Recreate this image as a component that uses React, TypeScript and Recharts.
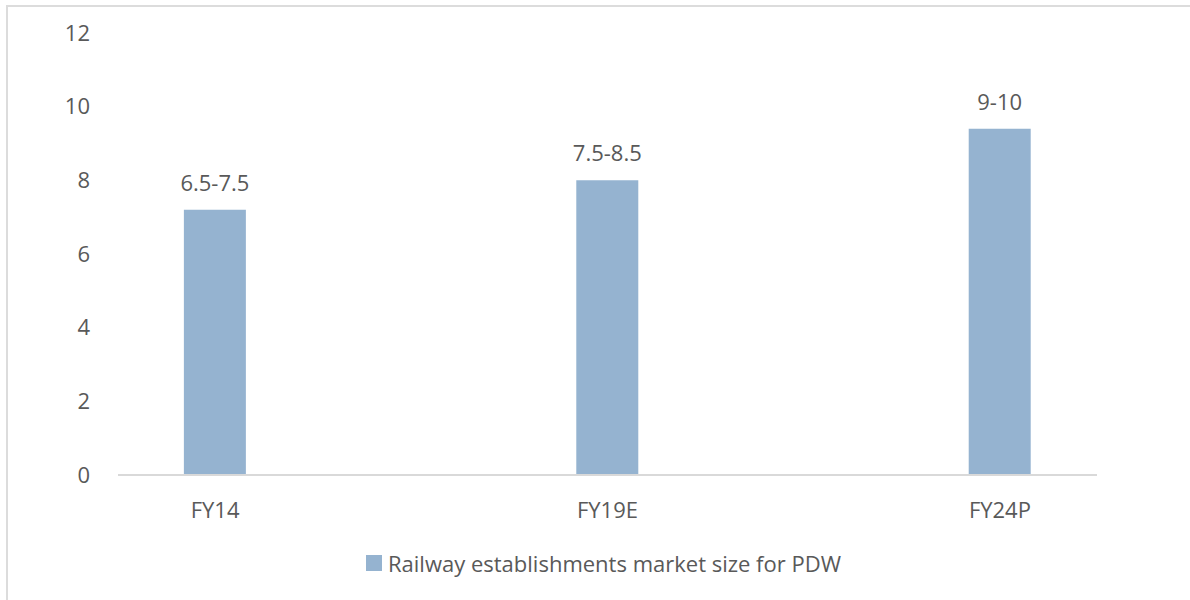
import { BarChart, Bar, XAxis, YAxis, LabelList, Legend } from "recharts";

const categories = ["FY14", "FY19E", "FY24P"];
const marketSize = [7.2, 8.0, 9.4];
const rangeLabels = ["6.5-7.5", "7.5-8.5", "9-10"];
const yTicks = [0, 2, 4, 6, 8, 10, 12];

const seriesName = "Railway establishments market size for PDW";

const data = categories.map((name, i) => ({
  idx: i,
  name,
  value: marketSize[i],
  label: rangeLabels[i],
}));

const FONT = "'Open Sans', sans-serif";
const TEXT = "#595959";
const BAR = "#95B3D0";

function LegendBox() {
  return (
    <div
      style={{
        display: "flex",
        justifyContent: "center",
        alignItems: "center",
        paddingLeft: 17,
        fontFamily: FONT,
        fontSize: 22,
        lineHeight: "26px",
        color: TEXT,
      }}
    >
      <span
        style={{
          width: 16,
          height: 16,
          background: BAR,
          marginRight: 6,
          display: "inline-block",
        }}
      />
      <span>{seriesName}</span>
    </div>
  );
}

export default function App() {
  return (
    <div
      style={{
        position: "absolute",
        left: 0,
        top: 0,
        width: 1190,
        height: 600,
        background: "#fff",
        overflow: "hidden",
      }}
    >
      <div
        style={{
          position: "absolute",
          left: 6,
          top: 5,
          width: 1200,
          height: 620,
          borderTop: "2px solid #DCDCDC",
          borderLeft: "2px solid #DCDCDC",
        }}
      />
      <div style={{ position: "absolute", left: 0, top: 0 }}>
        <BarChart
          width={1190}
          height={600}
          data={data}
          margin={{ top: 33, right: 93, bottom: 39, left: 0 }}
        >
          <XAxis
            dataKey="idx"
            type="number"
            domain={[-0.2474, 2.2474]}
            ticks={[0, 1, 2]}
            tickFormatter={(v: number) => categories[v] ?? ""}
            allowDataOverflow
            height={60}
            tickLine={false}
            tickSize={0}
            tickMargin={27}
            axisLine={{ stroke: "#D9D9D9", strokeWidth: 2 }}
            tick={{ fill: TEXT, fontSize: 22, fontFamily: FONT }}
          />
          <YAxis
            domain={[0, 12]}
            ticks={yTicks}
            width={118}
            axisLine={false}
            tickLine={false}
            tickSize={0}
            tickMargin={28}
            tick={{ fill: TEXT, fontSize: 22, fontFamily: FONT }}
          />
          <Legend
            content={() => <LegendBox />}
            wrapperStyle={{ position: "absolute", left: 0, top: 550, width: 1190 }}
          />
          <Bar
            dataKey="value"
            name={seriesName}
            fill={BAR}
            barSize={62}
            isAnimationActive={false}
          >
            <LabelList
              dataKey="label"
              position="top"
              offset={19}
              fill={TEXT}
              fontSize={22}
              fontFamily={FONT}
            />
          </Bar>
        </BarChart>
      </div>
    </div>
  );
}
